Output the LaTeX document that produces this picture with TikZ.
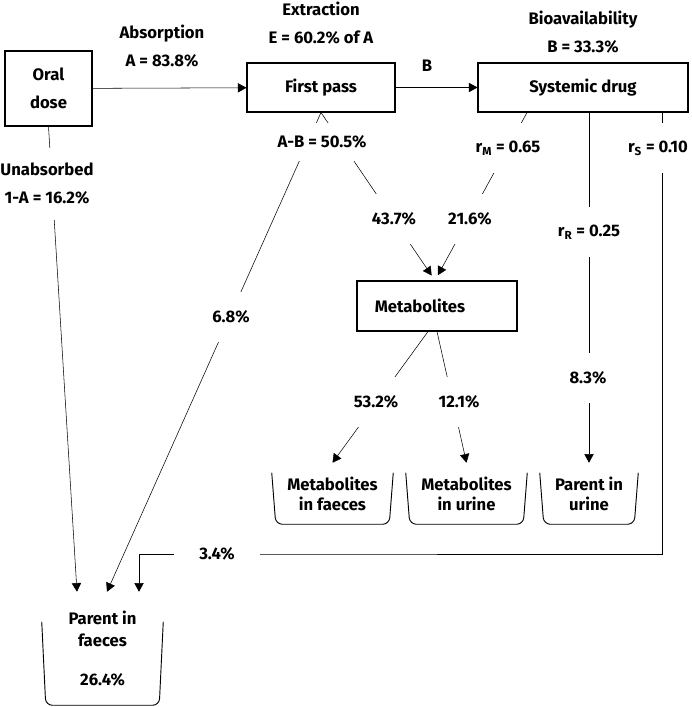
\documentclass[tikz,border=0pt]{standalone}
\usepackage{fontspec}
\setmainfont{Fira Sans}
\usepackage{tikz}
\usetikzlibrary{arrows.meta,calc,backgrounds}

\newcommand{\figfont}{\fontsize{12.5}{21}\selectfont\bfseries}
\newcommand{\cupfont}{\fontsize{12.5}{15}\selectfont\bfseries}

\tikzset{
  box/.style={draw, line width=0.8pt, font=\figfont, align=center, inner sep=0pt},
  note/.style={font=\figfont, align=center, inner sep=0pt},
  lbl/.style={fill=white, font=\figfont, align=center, inner xsep=1pt, inner ysep=0pt, minimum height=37.5pt},
  cup/.style={font=\cupfont, align=center, inner sep=0pt, minimum height=45.75pt,
    append after command={\pgfextra{\draw[line width=0.7pt, rounded corners=5pt]
      ([yshift=-#1]\tikzlastnode.north west) -- ([xshift=3pt]\tikzlastnode.south west)
      -- ([xshift=-3pt]\tikzlastnode.south east) -- ([yshift=-#1]\tikzlastnode.north east);}}},
  cup/.default=7.5pt,
  flow/.style={line width=0.6pt},
  >={Triangle[width=7pt,length=6.5pt]}
}

\begin{document}
\begin{tikzpicture}[x=0.75pt,y=-0.75pt]
\useasboundingbox (0,0) rectangle (692,707);
% boxes
\node[box, minimum width=65.25pt, minimum height=56.25pt] (oral) at (48.5,88.5) {Oral\\dose};
\node[box, minimum width=111pt, minimum height=36.75pt] (fp) at (321,87.5) {First pass};
\node[box, minimum width=157.5pt, minimum height=36.75pt] (sys) at (583,87.5) {Systemic drug};
\node[box, minimum width=120pt, minimum height=37.5pt] (met) at (437,306) {\hspace*{-25.5pt}Metabolites};
% excreta
\node[cup=22.5pt, minimum width=90.75pt, minimum height=84.75pt] (pfaeces) at (102.5,648.5) {Parent in\\[2pt]faeces\\[14pt]26.4\%};
\node[cup, minimum width=90.75pt] (mfaeces) at (332.5,493.5) {Metabolites\\in faeces};
\node[cup, minimum width=90.75pt] (murine) at (466.5,493.5) {Metabolites\\in urine};
\node[cup, minimum width=73.5pt] (purine) at (589,493.5) {Parent in\\urine};
% headings
\node[note] (absorb) at (162,46) {Absorption\\A = 83.8\%};
\node[note] (extract) at (321,23.5) {Extraction\\E = 60.2\% of A};
\node[note] (bioav) at (583,32.5) {Bioavailability\\B = 33.3\%};
\node[note] (blab) at (427,66) {B};
% fractions on the flows
\node[lbl, minimum height=54pt] (unabs) at (47,184) {Unabsorbed\\1-A = 16.2\%};
\node[lbl, minimum height=28pt] (ab) at (322,142) {A-B = 50.5\%};
\node[lbl] (p68) at (231,317) {6.8\%};
\node[lbl] (p437) at (394,219) {43.7\%};
\node[lbl] (rm) at (508,148) {r\textsubscript{M} = 0.65};
\node[lbl] (p216) at (470,219) {21.6\%};
\node[lbl] (rr) at (589,232) {r\textsubscript{R} = 0.25};
\node[lbl] (p83) at (588,378) {8.3\%};
\node[lbl] (rs) at (658,148) {r\textsubscript{S} = 0.10};
\node[lbl] (p532) at (376,402) {53.2\%};
\node[lbl] (p121) at (459,402) {12.1\%};
\node[lbl, minimum height=10pt, minimum width=64pt] (p34) at (217,554) {3.4\%};
% flows
\begin{scope}[on background layer, flow]
\draw[->] (oral) -- (fp);
\draw[->] (fp) -- (sys);
\draw[->] (oral.south) -- ($(pfaeces.north)+(-25.5,0)$);
\draw[->] (fp.south) -- ($(pfaeces.north)+(4.5,0)$);
\draw[->, shorten >=4.5pt] (fp.south) -- ($(met.north)+(-2,0)$);
\draw[->, shorten >=4.5pt] ($(sys.south)+(-56,0)$) -- ($(met.north)+(-2,0)$);
\draw[->] (sys.south -| purine.north) -- (purine.north);
\draw[->] ($(sys.south east)+(-26,0)$) |- (p34.center) -| ($(pfaeces.north)+(36.5,0)$);
\draw[->] ($(met.south)+(-9,0)$) -- (mfaeces.north);
\draw[->] (met.south) -- (murine.north);
\end{scope}
\end{tikzpicture}
\end{document}
